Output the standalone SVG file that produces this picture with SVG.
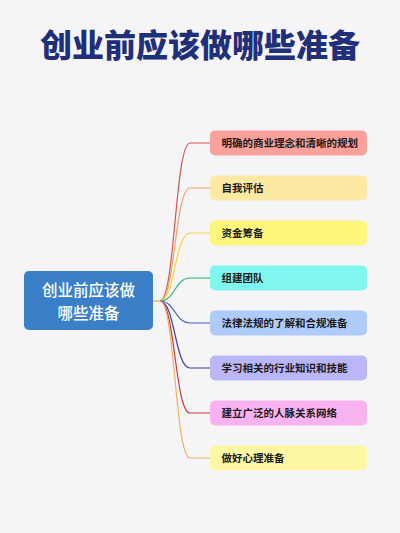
<svg xmlns="http://www.w3.org/2000/svg" width="400" height="533" viewBox="0 0 400 533">
<style>
.title{font-family:"Noto Sans CJK SC","Noto Sans",sans-serif;font-weight:900;font-size:32px;fill:#1f2f7a;text-anchor:middle}
.ctext{font-family:"Noto Sans CJK SC",sans-serif;font-weight:500;font-size:15.5px;fill:#ffffff;text-anchor:middle}
.btext{font-family:"Noto Sans CJK SC",sans-serif;font-weight:700;font-size:10.5px;fill:#1a1a1a}
.conn path{fill:none;stroke-width:1.2}
</style>
<rect width="400" height="533" fill="#f5f5f7"/>
<text class="title" x="200" y="57">创业前应该做哪些准备</text>
<g id="connectors" class="conn">
<path d="M153,301 L160,301" stroke="#f0a060"/>
<path d="M160,301 C175,301 175,143 190,143 L210,143" stroke="#d9534f"/>
<path d="M160,301 C175,301 175,188 190,188 L210,188" stroke="#f0a060"/>
<path d="M160,301 C175,301 175,233 190,233 L210,233" stroke="#f5d53a"/>
<path d="M160,301 C175,301 175,278 190,278 L210,278" stroke="#2bb673"/>
<path d="M160,301 C175,301 175,323 190,323 L210,323" stroke="#4a5fc0"/>
<path d="M160,301 C175,301 175,368 190,368 L210,368" stroke="#3b3f9a"/>
<path d="M160,301 C175,301 175,413 190,413 L210,413" stroke="#d03a3a"/>
<path d="M160,301 C175,301 175,458 190,458 L210,458" stroke="#f0b060"/>
</g>
<g id="center">
<rect x="24" y="271" width="129" height="59" rx="5" fill="#3b7fc8"/>
<text class="ctext" x="88.5" y="296">创业前应该做</text>
<text class="ctext" x="88.5" y="318.5">哪些准备</text>
</g>
<g id="n1"><rect x="210" y="130.5" width="157" height="25" rx="5" fill="#f9a19a"/><text class="btext" x="221.5" y="146.8">明确的商业理念和清晰的规划</text></g>
<g id="n2"><rect x="210" y="175.5" width="157" height="25" rx="5" fill="#fde9a2"/><text class="btext" x="221.5" y="191.8">自我评估</text></g>
<g id="n3"><rect x="210" y="220.5" width="157" height="25" rx="5" fill="#fdf67c"/><text class="btext" x="221.5" y="236.8">资金筹备</text></g>
<g id="n4"><rect x="210" y="265.5" width="157" height="25" rx="5" fill="#7ff7ef"/><text class="btext" x="221.5" y="281.8">组建团队</text></g>
<g id="n5"><rect x="210" y="310.5" width="157" height="25" rx="5" fill="#afcbfa"/><text class="btext" x="221.5" y="326.8">法律法规的了解和合规准备</text></g>
<g id="n6"><rect x="210" y="355.5" width="157" height="25" rx="5" fill="#bab6f7"/><text class="btext" x="221.5" y="371.8">学习相关的行业知识和技能</text></g>
<g id="n7"><rect x="210" y="400.5" width="157" height="25" rx="5" fill="#f8b2f0"/><text class="btext" x="221.5" y="416.8">建立广泛的人脉关系网络</text></g>
<g id="n8"><rect x="210" y="445.5" width="157" height="25" rx="5" fill="#fdf6a2"/><text class="btext" x="221.5" y="461.8">做好心理准备</text></g>
</svg>
